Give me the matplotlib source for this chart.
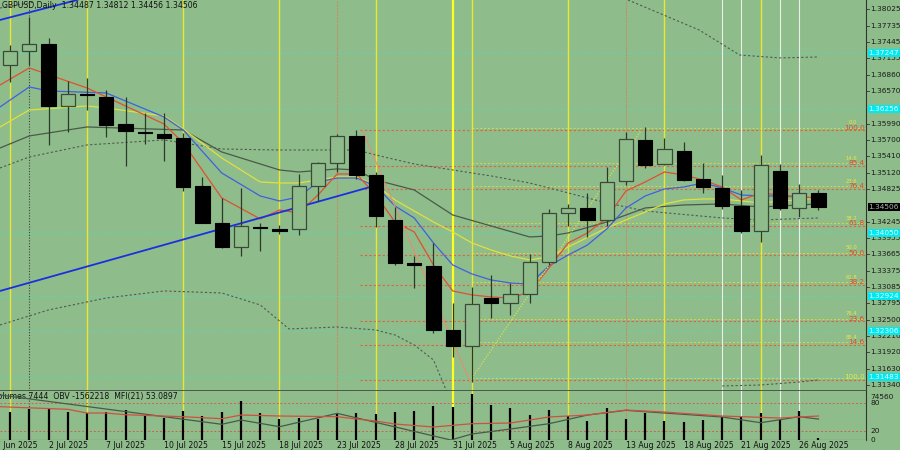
import matplotlib
matplotlib.use("Agg")
import matplotlib.pyplot as plt
import matplotlib.transforms as mtrans
import numpy as np

BG = '#8fbc8b'
title = "GBPUSD,Daily  1.34487 1.34812 1.34456 1.34506"

opens  = [1.37034,1.37288,1.37408,1.36304,1.36518,1.36459,1.35979,1.35836,1.35806,1.35740,
          1.34886,1.34228,1.33790,1.34157,1.34116,1.34111,1.34881,1.35296,1.35771,1.35077,
          1.34276,1.33506,1.33463,1.32319,1.32034,1.32894,1.32805,1.32954,1.33523,1.34395,
          1.34484,1.34276,1.34965,1.35705,1.35267,1.35509,1.35000,1.34851,1.34525,1.34080,
          1.35148,1.34495,1.34751]
highs  = [1.37390,1.37893,1.37520,1.36749,1.36803,1.36589,1.36465,1.36185,1.36185,1.35824,
          1.35047,1.34668,1.34845,1.34228,1.34187,1.35095,1.35313,1.35806,1.35877,1.35135,
          1.34513,1.33636,1.33862,1.32805,1.33089,1.33297,1.33155,1.33671,1.34472,1.34561,
          1.34751,1.35214,1.35842,1.35936,1.35730,1.35659,1.35296,1.35077,1.34810,1.35433,
          1.35267,1.34917,1.34810]
lows   = [1.36737,1.37034,1.35611,1.35847,1.36233,1.35753,1.35237,1.35628,1.35326,1.34797,
          1.34223,1.33778,1.33636,1.33730,1.34027,1.34009,1.34619,1.35135,1.34999,1.34157,
          1.33475,1.33072,1.32271,1.31844,1.31399,1.32527,1.32586,1.32794,1.33475,1.34169,
          1.33979,1.34175,1.34899,1.35196,1.35255,1.34975,1.34762,1.34466,1.34050,1.33890,
          1.34454,1.34335,1.34454]
closes = [1.37288,1.37408,1.36304,1.36518,1.36500,1.35966,1.35865,1.35829,1.35730,1.34869,
          1.34228,1.33790,1.34169,1.34134,1.34075,1.34886,1.35296,1.35771,1.35077,1.34353,
          1.33506,1.33470,1.32319,1.32034,1.32776,1.32805,1.32954,1.33523,1.34395,1.34495,
          1.34276,1.34947,1.35712,1.35255,1.35534,1.34988,1.34869,1.34525,1.34086,1.35255,
          1.34484,1.34751,1.34513]
volumes = [60.7,65.9,66.5,60.7,57.3,60,64.4,53.6,47.9,62.2,52.1,60,83.7,57.3,45,46.6,45.7,
           58.6,58.6,56.4,60,62.2,73.6,71.5,98,74.5,68,53.6,64.4,51.5,41.4,69.3,45,58.6,41.4,
           38,42.3,50,50,58,42.3,61.6,5]

date_idx = [-1,2,5,8,11,14,17,20,23,26,29,32,35,38,41]
date_lbl = ["27 Jun 2025","2 Jul 2025","7 Jul 2025","10 Jul 2025","15 Jul 2025","18 Jul 2025",
            "23 Jul 2025","28 Jul 2025","31 Jul 2025","5 Aug 2025","8 Aug 2025","13 Aug 2025",
            "18 Aug 2025","21 Aug 2025","26 Aug 2025"]

red_x = [-0.52,1,4,5,8,9,11,13,14,15,16,17,18,19,20,21,22,23,24,25,26,27,28,29,30,31,32,33,34,35,36,37,38,39,40,41,42]
red_y = [1.36678,1.36981,1.36625,1.36465,1.35984,1.35646,1.34668,1.34294,1.34454,1.34401,1.34721,
         1.35095,1.35095,1.34721,1.34240,1.34063,1.33475,1.33013,1.32942,1.32906,1.32888,1.32995,
         1.33422,1.33867,1.34045,1.34312,1.34792,1.34952,1.35130,1.35077,1.34988,1.34863,1.34632,
         1.34757,1.34721,1.34685,1.34668]
blue_x = [-0.52,1,2,5,8,9,11,13,14,15,16,17,18,19,20,21,22,23,24,25,26,27,28,29,30,31,32,33,34,35,36,37,38,39,40,41,42]
blue_y = [1.36287,1.36643,1.36572,1.36536,1.36109,1.35877,1.35112,1.34703,1.34614,1.34685,1.34952,
          1.35023,1.35023,1.34881,1.34525,1.34312,1.33867,1.33475,1.33315,1.33208,1.33155,1.33137,
          1.33458,1.33653,1.33831,1.34116,1.34490,1.34703,1.34828,1.34863,1.34934,1.34845,1.34721,
          1.34703,1.34703,1.34685,1.34668]
yel_x = [-0.52,1,4,5,8,9,11,13,14,15,17,18,19,20,22,23,24,25,26,27,28,29,31,33,34,35,36,37,39,42]
yel_y = [1.35931,1.36233,1.36304,1.36269,1.36126,1.35895,1.35379,1.34952,1.34934,1.34934,1.35041,
         1.35041,1.34899,1.34632,1.34240,1.34063,1.33867,1.33742,1.33636,1.33565,1.33618,1.33796,
         1.34134,1.34418,1.34561,1.34632,1.34650,1.34650,1.34579,1.34668]
gray_x = [-0.52,1,4,9,11,14,15,17,18,19,21,23,25,27,28,29,31,33,35,37,39,42]
gray_y = [1.35557,1.35771,1.35931,1.35877,1.35486,1.35166,1.35130,1.35184,1.35166,1.34988,1.34810,
          1.34365,1.34169,1.33974,1.33991,1.34045,1.34240,1.34490,1.34543,1.34561,1.34507,1.34561]
mid_x = [-0.52,1,4,8,11,14,17,18,19,21,23,25,27,29,31,33,37,39,42]
mid_y = [1.35201,1.35397,1.35611,1.35700,1.35539,1.35521,1.35521,1.35521,1.35433,1.35272,1.35166,
         1.35059,1.34934,1.34757,1.34579,1.34436,1.34312,1.34276,1.34312]
up_l_x = [-0.52,1.3]; up_l_y = [1.38048,1.38155]
up_r_x = [32.1,35.8,37.9,40,42]; up_r_y = [1.38191,1.37657,1.37212,1.37159,1.37176]
lo_l_x = [-0.52,2,5,8,11,13,14.5,17,19,20,21,22,22.7]
lo_l_y = [1.32408,1.32675,1.32888,1.33013,1.32977,1.32764,1.32337,1.32372,1.32319,1.32230,
          1.32052,1.31785,1.31216]
lo_r_x = [37,39,41,42]; lo_r_y = [1.31322,1.31340,1.31393,1.31429]
trend_x = [-0.52,18.6]; trend_y = [1.33013,1.34852]
trend2_x = [-0.52,3.5]; trend2_y = [1.37835,1.38191]
sal_x = [18.3,23.9]; sal_y = [1.35877,1.31399]
ydot_x = [24,32.8]; ydot_y = [1.31465,1.35877]

fib_p = [1.35877,1.35242,1.34833,1.34175,1.33648,1.33125,1.32479,1.32057,1.31424]
fib_l = ["100.0","85.4","76.4","61.8","50.0","38.2","23.6","14.6","0.0"]
fib_yl = ["0.0","14.6","23.6","38.2","50.0","61.8","76.4","85.4","100.0"]
cyan_p = [1.37247,1.36256,1.34050,1.32924,1.32306,1.31483]
ticks_p = [1.38025,1.37735,1.37445,1.37155,1.36860,1.36570,1.35990,1.35700,1.35410,1.35120,
           1.34825,1.34245,1.33955,1.33665,1.33375,1.33085,1.32795,1.32500,1.32210,1.31920,
           1.31630,1.31340]
cur_price = 1.34506
yellow_v = [0,4,9,14,19,23,24,29,34,39]
orange_v = [17,32]
white_v = [37,38,40,41]

ind_red_x = [-0.52,3,4,5,6,9,11,12,14,17,18,19,20,22,24,26,28,30,32,34,37,40,42]
ind_red_y = [71.5,65.9,57.9,57.9,54.3,50,45.7,53.6,51.5,50,45,40.8,34.3,27.9,35,36.5,49.4,53.6,64.4,60,51.5,47.2,51.5]
ind_gray_x = [-0.52,11,12,14,17,22.9,24,26,28,30,32,34,37,39,41,42]
ind_gray_y = [96.6,33.7,42.9,28.5,57.2,0,12.9,23.6,35,53.6,63.7,57.9,49.4,37.1,50,45]
ind_text = "Volumes 7444  OBV -1562218  MFI(21) 53.0897"

fig = plt.figure(figsize=(9, 4.5), dpi=100, facecolor=BG)
W = 866/900
ax = fig.add_axes([0, 1-391/450, W, 391/450], facecolor=BG)
ax2 = fig.add_axes([0, 10/450, W, 49/450], facecolor=BG)
ax3 = fig.add_axes([0, 0, W, 10/450], facecolor=BG)
XL = (-0.52, 44.47)
for a in (ax, ax2, ax3):
    a.set_xlim(*XL)
    a.set_xticks([]); a.set_yticks([])
    for s in a.spines.values():
        s.set_visible(False)
ax.set_ylim(1.31233, 1.38190)
ax2.set_ylim(0, 105.2)
ax3.set_ylim(0, 1)
for a in (ax, ax2):
    a.spines['right'].set_visible(True); a.spines['right'].set_color('#333333')
ax.spines['bottom'].set_visible(True); ax.spines['bottom'].set_color('#444444'); ax.spines['bottom'].set_linewidth(1.2)
ax2.spines['bottom'].set_visible(True); ax2.spines['bottom'].set_color('#444444')

for p in cyan_p:
    ax.axhline(p, color='#40e0d0', ls=(0,(2,2)), lw=0.6, alpha=0.8)
for p, l, yl in zip(fib_p, fib_l, fib_yl):
    ax.plot([18.2, XL[1]], [p, p], color='#e06040', ls=(0,(2,2)), lw=0.8)
    ax.plot([24, XL[1]], [p+0.0004, p+0.0004], color='#d8d840', ls=(0,(2,2)), lw=0.7)
    if l != "0.0":
        ax.text(44.4, p-0.0001, l, color='#e04830', fontsize=5.2, ha='right', va='bottom')
        ax.text(44.0, p+0.00085, yl, color='#e8e840', fontsize=3.8, ha='right', va='bottom')
    else:
        ax.text(44.4, p+0.0001, yl, color='#e8e840', fontsize=5.2, ha='right', va='bottom')
for a in (ax, ax2):
    for v in yellow_v:
        a.axvline(v, color='#e8e830' if v != 23 else '#ffff20', lw=1.0 if v != 23 else 1.6)
    for v in orange_v:
        a.axvline(v, color='#d08060', lw=0.8, ls=(0,(1,1)))
    for v in white_v:
        a.axvline(v, color='#e8f0e8', lw=0.8)
    a.axvline(1, color='#404040', lw=0.8, ls=(0,(1,1.5)))

ax.plot(mid_x, mid_y, color='#505a50', ls=(0,(2,2)), lw=0.8)
ax.plot(up_l_x, up_l_y, color='#505a50', ls=(0,(2,2)), lw=0.8)
ax.plot(up_r_x, up_r_y, color='#505a50', ls=(0,(2,2)), lw=0.8)
ax.plot(lo_l_x, lo_l_y, color='#505a50', ls=(0,(2,2)), lw=0.8)
ax.plot(lo_r_x, lo_r_y, color='#505a50', ls=(0,(2,2)), lw=0.8)
ax.plot(gray_x, gray_y, color='#4a5a4a', lw=0.9)
ax.plot(yel_x, yel_y, color='#e0e040', lw=0.9)
ax.plot(blue_x, blue_y, color='#4060e0', lw=0.9)
ax.plot(red_x, red_y, color='#e05030', lw=0.9)
ax.plot(sal_x, sal_y, color='#e09070', lw=0.8)
ax.plot(ydot_x, ydot_y, color='#e8e840', lw=0.8, ls=(0,(1,1.5)))
ax.plot(trend_x, trend_y, color='#1a30e0', lw=1.3)
ax.plot(trend2_x, trend2_y, color='#1a30e0', lw=1.3)

for i, (o, h, l, c) in enumerate(zip(opens, highs, lows, closes)):
    ax.vlines(i, l, h, color='#2a3a2a', lw=0.9, zorder=4)
    lo_, hi_ = min(o, c), max(o, c)
    hgt = max(hi_ - lo_, 0.00012)
    if c < o:
        ax.add_patch(plt.Rectangle((i-0.37, lo_), 0.74, hgt, facecolor='black', edgecolor='black', lw=0.8, zorder=5))
    else:
        ax.add_patch(plt.Rectangle((i-0.37, lo_), 0.74, hgt, facecolor=BG, edgecolor='#3a4a3a', lw=0.9, zorder=5))

FS = 5.3
tr = mtrans.blended_transform_factory(ax.transAxes, ax.transData)
for p in ticks_p:
    ax.text(1.005, p, "1.%05d" % round((p-1)*100000), transform=tr, fontsize=FS, va='center', ha='left', color='#1a1a1a', clip_on=False)
    ax.plot([1.0, 1.004], [p, p], transform=tr, color='#333333', lw=0.6, clip_on=False)
for p in cyan_p:
    ax.text(1.003, p, "1.%05d" % round((p-1)*100000), transform=tr, fontsize=FS, va='center', ha='left',
            color='#e0ffff', clip_on=False, bbox=dict(boxstyle='square,pad=0.12', fc='#00e8f0', ec='none'))
ax.text(1.003, cur_price, "1.%05d" % round((cur_price-1)*100000), transform=tr, fontsize=FS, va='center', ha='left',
        color='#b0b0b0', clip_on=False, bbox=dict(boxstyle='square,pad=0.12', fc='black', ec='none'))
ax.text(0.002, 0.997, title, transform=ax.transAxes, fontsize=5.6, va='top', ha='left', color='#111111')

ax2.axhline(80, color='#d06050', ls=(0,(2,2)), lw=0.7)
ax2.axhline(20, color='#d06050', ls=(0,(2,2)), lw=0.7)
ax2.vlines(range(len(volumes)), 0, volumes, color='black', lw=1.6, zorder=5)
ax2.plot(ind_gray_x, ind_gray_y, color='#4a5a4a', lw=0.9, zorder=6)
ax2.plot(ind_red_x, ind_red_y, color='#d05040', lw=0.9, zorder=6)
ax2.text(-0.9, 103, ind_text, fontsize=5.6, va='top', ha='left', color='#111111', clip_on=True)
tr2 = mtrans.blended_transform_factory(ax2.transAxes, ax2.transData)
for v, s in [(92.9, "74560"), (80, "80"), (20, "20"), (0, "0")]:
    ax2.text(1.005, v, s, transform=tr2, fontsize=FS, va='center', ha='left', color='#1a1a1a', clip_on=False)

for i, s in zip(date_idx, date_lbl):
    ax3.text(i, 0.45, s, fontsize=5.6, va='center', ha='left', color='#111111', clip_on=True)

fig.savefig("out.png", dpi=100, facecolor=BG)
